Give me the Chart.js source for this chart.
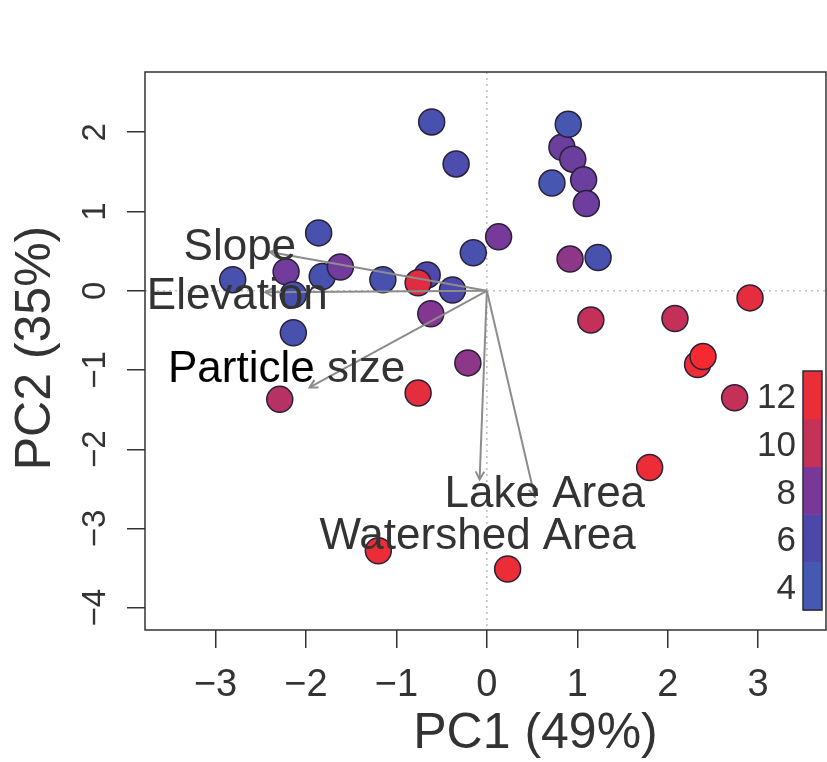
<!DOCTYPE html>
<html><head><meta charset="utf-8">
<script src="https://cdn.jsdelivr.net/npm/chart.js@4.4.1/dist/chart.umd.min.js"></script>
<style>html,body{margin:0;padding:0;background:#fff;}#wrap{width:827px;height:762px;}</style>
</head><body><div id="wrap"><canvas id="c" width="827" height="762"></canvas></div>
<script>
// ---- data ----
const pc1 = [-0.61,-0.34,0.83,0.95,1.07,1.10,0.90,0.72,0.92,1.23,0.13,-0.15,-1.86,-2.81,-2.22,-1.82,-1.62,-1.15,-0.66,-0.76,-0.38,-2.14,-2.14,-0.62,-0.21,-0.76,-2.29,-1.20,0.23,1.15,2.08,2.91,2.33,2.39,2.74,1.80];
const pc2 = [2.13,1.60,1.81,1.66,1.40,1.10,2.10,1.36,0.40,0.42,0.68,0.48,0.73,0.14,0.24,0.18,0.30,0.14,0.20,0.10,0.01,-0.05,-0.53,-0.29,-0.91,-1.29,-1.37,-3.28,-3.51,-0.37,-0.35,-0.09,-0.93,-0.83,-1.35,-2.23];
const colorValue = [5.0,5.5,7.3,7.3,7.3,7.4,4.5,4.5,8.5,5.0,7.8,5.0,5.0,5.0,7.6,5.0,7.6,5.0,6.0,11.3,6.0,5.0,5.0,8.2,8.5,11.6,9.6,12.0,12.0,10.0,10.0,11.6,12.0,12.8,10.0,12.0];
const loadingNames = ['Slope','Elevation','Particle size','Lake Area','Watershed Area'];
const loadingPC1 = [-2.40,-2.45,-1.96,0.53,-0.08];
const loadingPC2 = [0.49,-0.02,-1.22,-2.60,-2.38];
const xTicks = [-3,-2,-1,0,1,2,3];
const yTicks = [-4,-3,-2,-1,0,1,2];
const colorBarTicks = [4,6,8,10,12];
const colorBarBreaks = [3,5,7,9,11,13];
const xTitle = 'PC1 (49%)';
const yTitle = 'PC2 (35%)';

// ---- styles ----
const colorBarColors = ['#4558b2','#4b48aa','#793899','#c43258','#ea2e38'];
const colorStops = [[4,[68,90,178]],[6,[78,72,170]],[8,[124,56,152]],[10,[196,48,88]],[12,[236,44,54]],[13,[248,40,46]]];
function valueColor(v){
  if (v <= colorStops[0][0]) return 'rgb(' + colorStops[0][1].join(',') + ')';
  for (let i = 1; i < colorStops.length; i++) {
    const [v1,c1] = colorStops[i-1], [v2,c2] = colorStops[i];
    if (v <= v2) {
      const t = (v - v1) / (v2 - v1);
      return 'rgb(' + c1.map((c,k)=>Math.round(c + (c2[k]-c)*t)).join(',') + ')';
    }
  }
  return 'rgb(' + colorStops[colorStops.length-1][1].join(',') + ')';
}
const FONT = '"Liberation Sans", Arial, Helvetica, sans-serif';
const labelPlacement = {
  'Slope': {dx:-30, dy:8},
  'Elevation': {dx:-28, dy:17},
  'Particle size': {dx:-23, dy:-5},
  'Lake Area': {dx:10, dy:10},
  'Watershed Area': {dx:-2, dy:70}
};
const colorBarBox = {left:803, right:822, top:371, bottom:610};

const biplot = {
  id: 'biplot',
  beforeDatasetsDraw(chart){
    const {ctx, chartArea:a, scales:{x, y}} = chart;
    ctx.save();
    ctx.strokeStyle = '#bdbdbd'; ctx.lineWidth = 1.5; ctx.setLineDash([2,4]);
    const x0 = x.getPixelForValue(0), y0 = y.getPixelForValue(0);
    ctx.beginPath(); ctx.moveTo(x0, a.top); ctx.lineTo(x0, a.bottom); ctx.stroke();
    ctx.beginPath(); ctx.moveTo(a.left, y0); ctx.lineTo(a.right, y0); ctx.stroke();
    ctx.restore();
  },
  afterDatasetsDraw(chart){
    const {ctx, chartArea:a, scales:{x, y}} = chart;
    const x0 = x.getPixelForValue(0), y0 = y.getPixelForValue(0);
    ctx.save();
    // loading arrows
    ctx.strokeStyle = '#8c8c8c'; ctx.lineWidth = 2;
    loadingNames.forEach((n, i) => {
      const tx = x.getPixelForValue(loadingPC1[i]), ty = y.getPixelForValue(loadingPC2[i]);
      ctx.beginPath(); ctx.moveTo(x0, y0); ctx.lineTo(tx, ty); ctx.stroke();
      const ang = Math.atan2(ty - y0, tx - x0), L = 9, w = 0.5;
      ctx.beginPath();
      ctx.moveTo(tx - L*Math.cos(ang - w), ty - L*Math.sin(ang - w));
      ctx.lineTo(tx, ty);
      ctx.lineTo(tx - L*Math.cos(ang + w), ty - L*Math.sin(ang + w));
      ctx.stroke();
    });
    // loading labels
    ctx.font = '44px ' + FONT; ctx.textBaseline = 'alphabetic';
    loadingNames.forEach((n, i) => {
      const tx = x.getPixelForValue(loadingPC1[i]), ty = y.getPixelForValue(loadingPC2[i]);
      const p = labelPlacement[n];
      const cx = tx + p.dx, by = ty + p.dy;
      if (n === 'Particle size') {
        const full = ctx.measureText(n).width;
        const first = 'Particle';
        const left = cx - full/2;
        ctx.textAlign = 'left';
        ctx.fillStyle = '#000';
        ctx.fillText(first, left, by);
        ctx.fillStyle = '#333';
        ctx.fillText(' size', left + ctx.measureText(first).width, by);
      } else {
        ctx.textAlign = 'center'; ctx.fillStyle = '#333';
        ctx.fillText(n, cx, by);
      }
    });
    // box
    ctx.strokeStyle = '#333'; ctx.lineWidth = 1.5; ctx.setLineDash([]);
    ctx.strokeRect(a.left, a.top, a.right - a.left, a.bottom - a.top);
    // x tick labels
    ctx.fillStyle = '#333'; ctx.font = '38px ' + FONT; ctx.textAlign = 'center';
    xTicks.forEach(t => ctx.fillText(t < 0 ? '\u2212' + Math.abs(t) : String(t), x.getPixelForValue(t), 696));
    // y tick labels (rotated)
    ctx.font = '33px ' + FONT;
    yTicks.forEach(t => {
      ctx.save(); ctx.translate(105, y.getPixelForValue(t)); ctx.rotate(-Math.PI/2);
      ctx.textAlign = 'center';
      ctx.fillText(t < 0 ? '\u2212' + Math.abs(t) : String(t), 0, 0);
      ctx.restore();
    });
    // titles
    ctx.font = '50px ' + FONT; ctx.textAlign = 'center';
    ctx.fillText(xTitle, (a.left + a.right)/2 + 50, 748);
    ctx.save(); ctx.translate(50, 348); ctx.rotate(-Math.PI/2); ctx.fillText(yTitle, 0, 0); ctx.restore();
    // colour bar
    const b = colorBarBox, vmin = colorBarBreaks[0], vmax = colorBarBreaks[colorBarBreaks.length-1];
    const vy = v => b.bottom - (v - vmin) / (vmax - vmin) * (b.bottom - b.top);
    for (let i = 0; i < colorBarColors.length; i++) {
      ctx.fillStyle = colorBarColors[i];
      const yt = vy(colorBarBreaks[i+1]), yb = vy(colorBarBreaks[i]);
      ctx.fillRect(b.left, yt, b.right - b.left, yb - yt + 0.5);
    }
    ctx.strokeStyle = '#2a2a3a'; ctx.lineWidth = 1.5;
    ctx.strokeRect(b.left, b.top, b.right - b.left, b.bottom - b.top);
    ctx.fillStyle = '#333'; ctx.font = '35px ' + FONT; ctx.textAlign = 'right';
    colorBarTicks.forEach(t => ctx.fillText(String(t), 796, vy(t) + 13));
    ctx.restore();
  }
};

new Chart(document.getElementById('c'), {
  type: 'scatter',
  data: { datasets: [{
    data: pc1.map((v, i) => ({x: v, y: pc2[i]})),
    pointRadius: 13, pointHoverRadius: 13,
    backgroundColor: colorValue.map(valueColor),
    borderColor: '#2a2038', borderWidth: 1.5
  }]},
  options: {
    responsive: false, animation: false, devicePixelRatio: 1,
    layout: { autoPadding: false, padding: { top: 72, right: 1, left: 0, bottom: 0 } },
    plugins: { legend: {display: false}, tooltip: {enabled: false} },
    scales: {
      x: { type: 'linear', min: -3.78, max: 3.75,
           ticks: { stepSize: 1, includeBounds: false, display: false },
           grid: { drawOnChartArea: false, drawTicks: true, tickLength: 18, color: '#333', lineWidth: 1.5 },
           border: { display: false },
           afterFit(s){ s.height = 132; } },
      y: { type: 'linear', min: -4.28, max: 2.76,
           ticks: { stepSize: 1, includeBounds: false, display: false },
           grid: { drawOnChartArea: false, drawTicks: true, tickLength: 18, color: '#333', lineWidth: 1.5 },
           border: { display: false },
           afterFit(s){ s.width = 145; } }
    }
  },
  plugins: [biplot]
});
</script>
</body></html>
